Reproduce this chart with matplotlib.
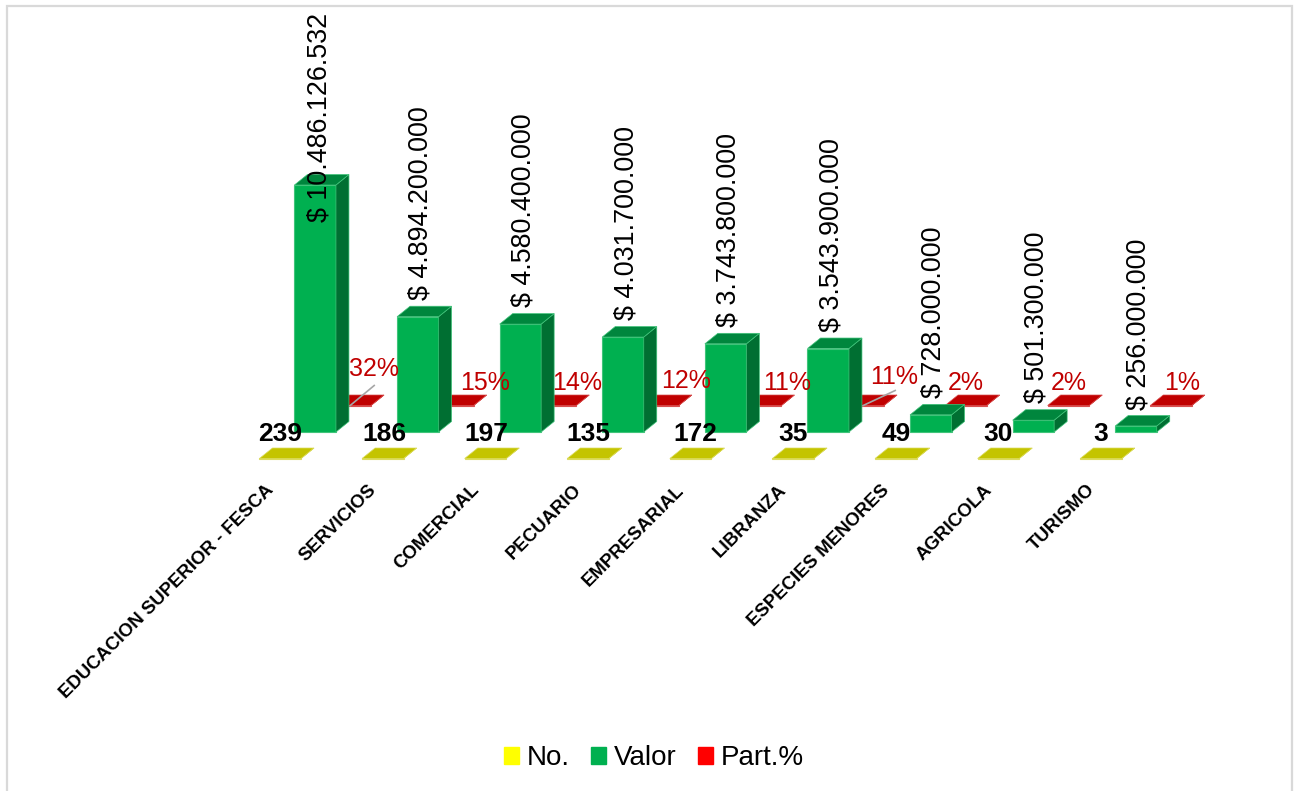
import matplotlib.pyplot as plt
from matplotlib.patches import Patch, Rectangle

plt.rcParams['font.family'] = ['Liberation Sans', 'DejaVu Sans']

# Values
categorias = ['EDUCACION SUPERIOR - FESCA', 'SERVICIOS', 'COMERCIAL', 'PECUARIO', 'EMPRESARIAL',
              'LIBRANZA', 'ESPECIES MENORES', 'AGRICOLA', 'TURISMO']
numero = [239, 186, 197, 135, 172, 35, 49, 30, 3]
valor = [10486126532, 4894200000, 4580400000, 4031700000, 3743800000,
         3543900000, 728000000, 501300000, 256000000]
valor_labels = ['$ 10.486.126.532', '$ 4.894.200.000', '$ 4.580.400.000', '$ 4.031.700.000', '$ 3.743.800.000',
                '$ 3.543.900.000', '$ 728.000.000', '$ 501.300.000', '$ 256.000.000']
part_labels = ['32%', '15%', '14%', '12%', '11%', '11%', '2%', '2%', '1%']
part = [0.32, 0.15, 0.14, 0.12, 0.11, 0.11, 0.02, 0.02, 0.01]

# Label nudges in pixels, from where each label sits by default
valor_dx = [4, 3, 3, 3, 3, 3, 3, 3, 3]
valor_dy = [-37, 17, 17, 17, 17, 17, 17, 17, 16]
part_dx = [4, 12, 2, 8, 7, 11, -20, -20, -9]
part_dy = [36, 22, 22, 24, 23, 29, 22, 22, 22]
no_dx = [0, 2, 1, 0, 5, 0, 0, 0, 0]

# Axis scales: one category step and the pesos per pixel
step_px = 102.6
pesos_px = 10486126532 / 247
bar_w = 41.5 / step_px
depth_x = 13 / step_px
depth_y = 10.5 * pesos_px
row_x = 35 / step_px
row_y = 26.5 * pesos_px

fig = plt.figure(figsize=(12.95, 7.91), dpi=100)
ax = fig.add_axes([0, 0, 1, 1])
ax.set_xlim(-315.2 / step_px, (1295 - 315.2) / step_px)
ax.set_ylim(-359 * pesos_px, 432 * pesos_px)
ax.axis('off')

fig.add_artist(Rectangle((7 / 1295, -0.02), 1285 / 1295, 1 + 0.02 - 5.5 / 791, fill=False,
                         edgecolor='#D9D9D9', linewidth=1.6, transform=fig.transFigure))


def draw_box(i, row, value, front, top, side, edge):
    x = i + row * row_x
    base = row * row_y
    h = base + value
    ax.bar(x, value, width=bar_w, bottom=base, color=front, edgecolor=edge, linewidth=0.8)
    right = x + bar_w / 2
    left = x - bar_w / 2
    ax.fill([right, right + depth_x, right + depth_x, right],
            [base, base + depth_y, h + depth_y, h], color=side, ec=edge, lw=0.5)
    ax.fill([left, right, right + depth_x, left + depth_x],
            [h, h, h + depth_y, h + depth_y], color=top, ec=edge, lw=0.5)


# Back row first so the green bars cover the red ones
for i in range(len(categorias)):
    draw_box(i, 1, part[i], '#FF0000', '#C00000', '#990000', '#D85050')
for i in range(len(categorias)):
    draw_box(i, 0, valor[i], '#00B050', '#00863D', '#006F32', '#40C47A')
for i in range(len(categorias)):
    draw_box(i, -1, numero[i], '#FFFF00', '#C4C400', '#A0A000', '#DCDC60')

# Leader lines for the two labels pulled off their marks
for i, w, h in [(0, 24, 20), (5, 32, 15)]:
    ax.plot([i + row_x, i + row_x + w / step_px], [row_y, row_y + h * pesos_px], color='#A6A6A6', lw=1.2)

px = 72 / fig.dpi
for i in range(len(categorias)):
    ax.annotate(valor_labels[i], (i, valor[i]), xytext=(valor_dx[i] * px, valor_dy[i] * px),
                textcoords='offset points', rotation=90, ha='center', va='bottom',
                fontsize=19.4, color='black')
    ax.annotate(part_labels[i], (i + row_x, row_y), xytext=((20 + part_dx[i]) * px, part_dy[i] * px),
                textcoords='offset points', ha='center', va='center', fontsize=18, color='#C00000')
    ax.annotate(str(numero[i]), (i - row_x, 0), xytext=(no_dx[i] * px, -2 * px),
                textcoords='offset points', ha='center', va='center', fontsize=19,
                fontweight='bold', color='black')
    ax.annotate(categorias[i], (i - row_x, -row_y), xytext=(-9 * px, -29 * px),
                textcoords='offset points', rotation=45, rotation_mode='anchor', ha='right', va='center',
                fontsize=13.4, fontweight='bold', color='black')

handles = [Patch(color='#FFFF00', label='No.'), Patch(color='#00B050', label='Valor'),
           Patch(color='#FF0000', label='Part.%')]
fig.legend(handles=handles, ncol=3, loc='center', bbox_to_anchor=(654 / 1295, 1 - 758 / 791), frameon=False,
           fontsize=20, handlelength=0.55, handleheight=0.55, handletextpad=0.28, columnspacing=0.75)

plt.savefig('out.png', dpi=100)
